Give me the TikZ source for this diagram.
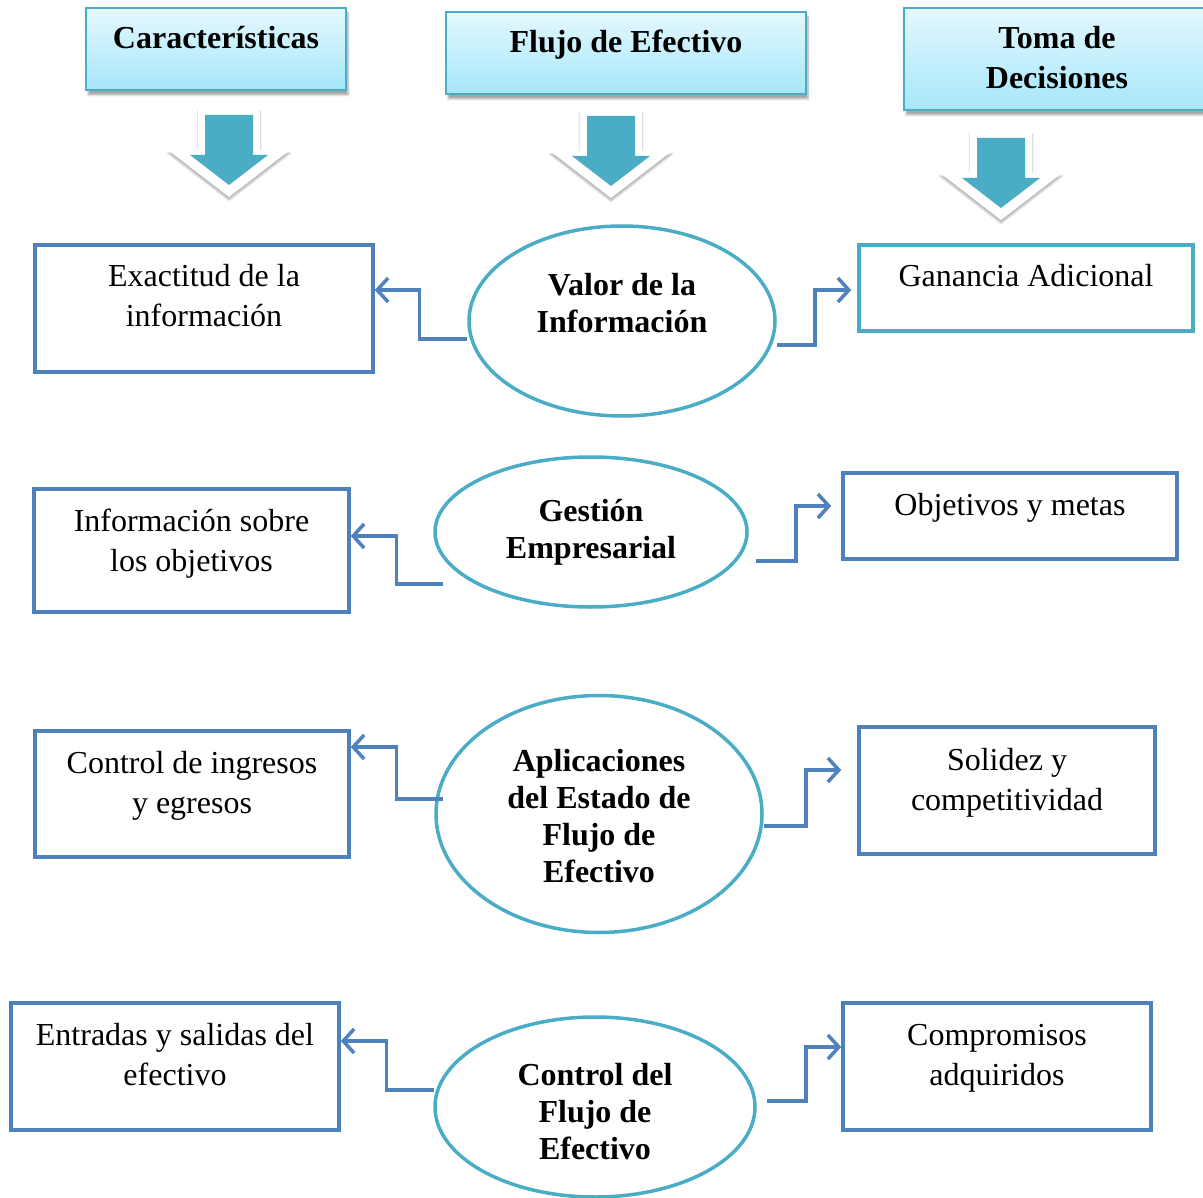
\documentclass[tikz,border=0pt]{standalone}
\usepackage{fontspec}
\setmainfont{Liberation Serif}
\usetikzlibrary{shapes.geometric,arrows.meta,shadows.blur}
\definecolor{azul}{HTML}{4F81BD}
\definecolor{turquesa}{HTML}{4BACC6}
\definecolor{celesteA}{HTML}{E4F8FE}
\definecolor{celesteB}{HTML}{A6E7FA}

\begin{document}
\begin{tikzpicture}[x=1pt,y=-1pt,
  titulo/.style={draw=turquesa,line width=1.5pt,top color=celesteA,bottom color=celesteB,
    blur shadow={shadow xshift=2pt,shadow yshift=-5pt,shadow opacity=35,shadow blur steps=6},
    font=\bfseries\fontsize{32}{40}\selectfont,align=flush center,inner sep=0pt},
  caja/.style={draw=azul,line width=3.5pt,align=flush center,inner sep=0pt,font=\fontsize{32}{40}\selectfont},
  globo/.style={ellipse,draw=turquesa,line width=3.5pt,align=flush center,inner sep=0pt,text width=200pt,
    font=\bfseries\fontsize{32}{37}\selectfont},
  enlace/.style={draw=azul,line width=3.5pt,-{Straight Barb[length=11pt,width=24pt]}}]
\useasboundingbox (0,0) rectangle (1203,1198);

% encabezados
\node[titulo,text width=260pt,text height=41pt,text depth=41pt] (carac) at (216,49) {Características\hspace*{12pt}};
\node[titulo,text width=360pt,text height=41pt,text depth=41pt] (flujo) at (626,53) {Flujo de Efectivo};
\node[titulo,text width=306pt,text height=41pt,text depth=61pt] (toma) at (1057,59) {Toma de\\Decisiones};

% flechas gruesas
\foreach \x/\y in {229/115,611/116,1001/138} {
\fill[white,blur shadow={shadow xshift=0pt,shadow yshift=-3pt,shadow opacity=30,shadow blur steps=6}]
  (\x-31,\y-7) -- (\x+31,\y-7) -- (\x+31,\y+35) -- (\x+61,\y+35) -- (\x,\y+82) -- (\x-61,\y+35) -- (\x-31,\y+35) -- cycle;
\fill[turquesa] (\x-24,\y) -- (\x+24,\y) -- (\x+24,\y+40) -- (\x+39,\y+40) -- (\x,\y+70) -- (\x-39,\y+40) -- (\x-24,\y+40) -- cycle;}

% elipses
\node[globo,minimum width=306pt,minimum height=190pt,text height=40pt,text depth=90pt] (valor) at (622,321) {Valor de la\\Información};
\node[globo,minimum width=312pt,minimum height=150pt,text height=40pt,text depth=62pt] (gestion) at (591,532) {Gestión\\Empresarial};
\node[globo,minimum width=326pt,minimum height=237pt,text height=40pt,text depth=126pt] (aplic) at (599,814) {Aplicaciones\\del Estado de\\Flujo de\\Efectivo};
\node[globo,minimum width=320pt,minimum height=180pt,text height=40pt,text depth=84pt] (control) at (595,1107) {Control del\\Flujo de\\Efectivo};

% cajas
\node[caja,text width=338pt,text height=42pt,text depth=85pt] (exactitud) at (204,308.5) {Exactitud de la\\información};
\node[caja,draw=turquesa,text width=334pt,text height=42pt,text depth=44pt] (ganancia) at (1026,288) {Ganancia Adicional};
\node[caja,text width=315pt,text height=42pt,text depth=81pt] (infobj) at (191.5,550.5) {Información sobre\\los objetivos};
\node[caja,text width=334pt,text height=42pt,text depth=44pt] (metas) at (1010,516) {Objetivos y metas};
\node[caja,text width=314pt,text height=42pt,text depth=84pt] (ingresos) at (192,794) {Control de ingresos\\y egresos};
\node[caja,text width=296pt,text height=43pt,text depth=84pt] (solidez) at (1007,790.5) {Solidez y\\competitividad};
\node[caja,text width=328pt,text height=42pt,text depth=85pt] (entradas) at (175,1066.5) {Entradas y salidas del\\efectivo};
\node[caja,text width=308pt,text height=42pt,text depth=85pt] (compromisos) at (997,1066.5) {Compromisos\\adquiridos};

% conectores
\draw[enlace] ([shift={(0,18)}]valor.west) -- ++(-48,0) |- ([shift={(0,-18.5)}]exactitud.east);
\draw[enlace] ([shift={(0,24)}]valor.east) -- ++(38,0) |- ([shift={(-6,2)}]ganancia.west);
\draw[enlace] ([shift={(10,52)}]gestion.west) -- ++(-47,0) |- ([shift={(0,-14.5)}]infobj.east);
\draw[enlace] ([shift={(7,29)}]gestion.east) -- ++(40,0) |- ([shift={(-10,-10)}]metas.west);
\draw[enlace] ([shift={(9,-15)}]aplic.west) -- ++(-47,0) |- ([shift={(0,-47)}]ingresos.east);
\draw[enlace] ([shift={(0,12)}]aplic.east) -- ++(42,0) |- ([shift={(-16,-20.5)}]solidez.west);
\draw[enlace] ([shift={(1,-17)}]control.west) -- ++(-48,0) |- ([shift={(0,-25.5)}]entradas.east);
\draw[enlace] ([shift={(10,-6)}]control.east) -- ++(39,0) |- ([shift={(0,-19.5)}]compromisos.west);
\end{tikzpicture}
\end{document}
